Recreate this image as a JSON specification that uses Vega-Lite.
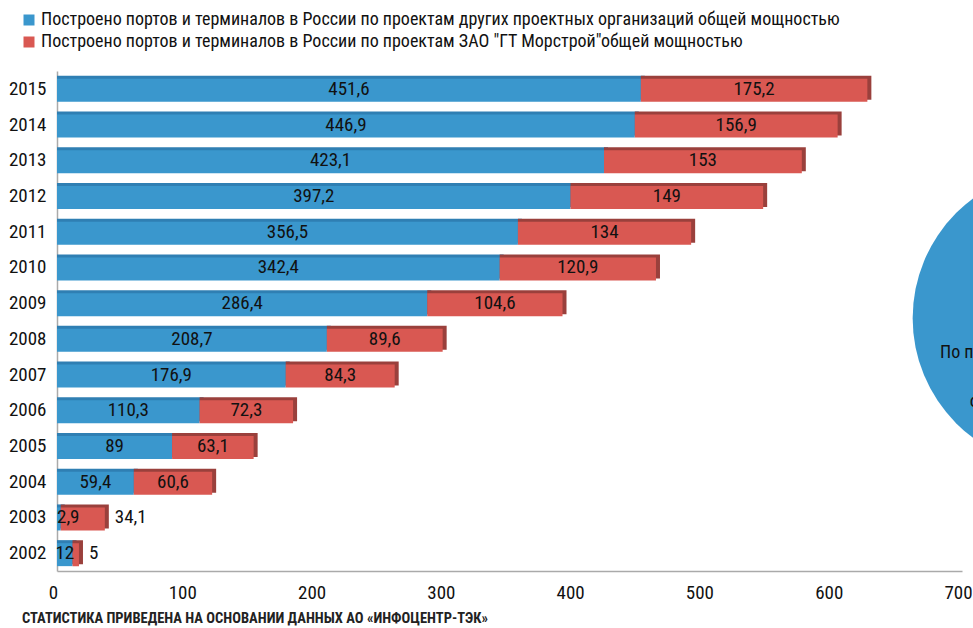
{
  "$schema": "https://vega.github.io/schema/vega-lite/v6.json",
  "width": 905,
  "height": 500,
  "autosize": {"type": "none"},
  "padding": {"left": 57, "top": 71, "right": 11, "bottom": 57},
  "background": "white",
  "config": {
    "view": {"stroke": null},
    "font": "Roboto Condensed, Arial Narrow, Roboto, sans-serif",
    "locale": {"number": {"decimal": ",", "thousands": " ", "grouping": [3], "currency": ["", ""]}}
  },
  "title": {
    "text": "СТАТИСТИКА ПРИВЕДЕНА НА ОСНОВАНИИ ДАННЫХ АО «ИНФОЦЕНТР-ТЭК»",
    "orient": "bottom",
    "anchor": "start",
    "frame": "group",
    "dx": -35,
    "offset": 10,
    "font": "Roboto Condensed, Arial Narrow, Roboto, sans-serif",
    "fontSize": 14.5,
    "fontWeight": "bold",
    "color": "#222222"
  },
  "datasets": {
    "ports": [
      {"year": "2015", "org": "other", "value": 451.6},
      {"year": "2015", "org": "morstroy", "value": 175.2},
      {"year": "2014", "org": "other", "value": 446.9},
      {"year": "2014", "org": "morstroy", "value": 156.9},
      {"year": "2013", "org": "other", "value": 423.1},
      {"year": "2013", "org": "morstroy", "value": 153},
      {"year": "2012", "org": "other", "value": 397.2},
      {"year": "2012", "org": "morstroy", "value": 149},
      {"year": "2011", "org": "other", "value": 356.5},
      {"year": "2011", "org": "morstroy", "value": 134},
      {"year": "2010", "org": "other", "value": 342.4},
      {"year": "2010", "org": "morstroy", "value": 120.9},
      {"year": "2009", "org": "other", "value": 286.4},
      {"year": "2009", "org": "morstroy", "value": 104.6},
      {"year": "2008", "org": "other", "value": 208.7},
      {"year": "2008", "org": "morstroy", "value": 89.6},
      {"year": "2007", "org": "other", "value": 176.9},
      {"year": "2007", "org": "morstroy", "value": 84.3},
      {"year": "2006", "org": "other", "value": 110.3},
      {"year": "2006", "org": "morstroy", "value": 72.3},
      {"year": "2005", "org": "other", "value": 89},
      {"year": "2005", "org": "morstroy", "value": 63.1},
      {"year": "2004", "org": "other", "value": 59.4},
      {"year": "2004", "org": "morstroy", "value": 60.6},
      {"year": "2003", "org": "other", "value": 2.9},
      {"year": "2003", "org": "morstroy", "value": 34.1},
      {"year": "2002", "org": "other", "value": 12},
      {"year": "2002", "org": "morstroy", "value": 5}
    ]
  },
  "layer": [
    {
      "data": {"values": [{"share": "other"}]},
      "mark": {"type": "point", "filled": true, "opacity": 1, "shape": "circle", "size": 88668, "color": "#3a97cd", "clip": false, "yOffset": 15},
      "encoding": {
        "x": {"datum": 777, "type": "quantitative", "scale": {"domain": [0, 700], "nice": false}},
        "y": {"datum": "2009", "type": "ordinal"}
      }
    },
    {
      "data": {"values": [{"t": "По проектам других проектных организаций"}]},
      "mark": {"type": "text", "align": "left", "baseline": "middle", "fontSize": 18, "color": "#111111", "dy": 14},
      "encoding": {
        "x": {"datum": 683, "type": "quantitative"},
        "y": {"datum": "2008", "type": "ordinal"},
        "text": {"field": "t"}
      }
    },
    {
      "data": {"values": [{"t": "общей мощностью"}]},
      "mark": {"type": "text", "align": "left", "baseline": "middle", "fontSize": 18, "color": "#111111", "dy": 27},
      "encoding": {
        "x": {"datum": 706, "type": "quantitative"},
        "y": {"datum": "2007", "type": "ordinal"},
        "text": {"field": "t"}
      }
    },
    {
      "data": {"name": "ports"},
      "transform": [
        {"calculate": "datum.org === 'other' ? 0 : 1", "as": "k"},
        {"stack": "value", "groupby": ["year"], "sort": [{"field": "k", "order": "ascending"}], "as": ["x0", "x1"]}
      ],
      "layer": [
        {
          "mark": {"type": "bar", "height": 24, "yOffset": -1, "x2Offset": 4},
          "encoding": {
            "y": {"field": "year", "type": "ordinal", "sort": "descending",
              "axis": {"title": null, "ticks": false, "labelPadding": 11, "labelFontSize": 19, "labelColor": "#111111", "domainColor": "#aaaaaa", "domainWidth": 1.5}},
            "x": {"field": "x0", "type": "quantitative", "scale": {"domain": [0, 700], "nice": false},
              "axis": {"title": null, "grid": false, "ticks": false, "values": [0, 100, 200, 300, 400, 500, 600, 700], "labelPadding": 12, "labelOffset": -4, "labelFontSize": 19, "labelColor": "#111111", "domainColor": "#aaaaaa", "domainWidth": 1.5, "labelFlush": false}},
            "x2": {"field": "x1"},
            "color": {"condition": {"test": "datum.org === 'other'", "value": "#2f7fb3"}, "value": "#9a403c"}
          }
        },
        {
          "mark": {"type": "bar", "height": 23, "yOffset": 1.5},
          "encoding": {
            "y": {"field": "year", "type": "ordinal", "sort": "descending"},
            "x": {"field": "x0", "type": "quantitative"},
            "x2": {"field": "x1"},
            "color": {"field": "org", "type": "nominal",
              "scale": {"domain": ["other", "morstroy"], "range": ["#3a97cd", "#d95852"]},
              "legend": {
                "title": null, "orient": "none", "legendX": -37, "legendY": -60,
                "symbolType": "square", "symbolSize": 121, "symbolStrokeWidth": 0,
                "labelFontSize": 18, "labelColor": "#111111", "labelLimit": 2000, "rowPadding": 4, "labelOffset": 3,
                "labelExpr": "datum.value === 'other' ? 'Построено портов и терминалов в России по проектам других проектных организаций общей мощностью' : 'Построено портов и терминалов в России по проектам ЗАО \"ГТ Морстрой\"общей мощностью'"
              }
            }
          }
        },
        {
          "transform": [
            {"filter": "!(datum.org === 'morstroy' && datum.value < 40) && !(datum.org === 'other' && datum.value < 5)"},
            {"calculate": "(datum.x0 + datum.x1) / 2", "as": "xm"}
          ],
          "mark": {"type": "text", "align": "center", "baseline": "middle", "fontSize": 19, "color": "#111111", "dy": 0},
          "encoding": {
            "y": {"field": "year", "type": "ordinal", "sort": "descending"},
            "x": {"field": "xm", "type": "quantitative"},
            "text": {"field": "value", "type": "quantitative", "format": "~g"}
          }
        },
        {
          "transform": [
            {"filter": "datum.org === 'morstroy' && datum.value < 40"}
          ],
          "mark": {"type": "text", "align": "left", "baseline": "middle", "fontSize": 19, "color": "#111111", "dx": 10},
          "encoding": {
            "y": {"field": "year", "type": "ordinal", "sort": "descending"},
            "x": {"field": "x1", "type": "quantitative"},
            "text": {"field": "value", "type": "quantitative", "format": "~g"}
          }
        },
        {
          "transform": [
            {"filter": "datum.org === 'other' && datum.value < 5"}
          ],
          "mark": {"type": "text", "align": "left", "baseline": "middle", "fontSize": 19, "color": "#111111", "dx": 0},
          "encoding": {
            "y": {"field": "year", "type": "ordinal", "sort": "descending"},
            "x": {"field": "x0", "type": "quantitative"},
            "text": {"field": "value", "type": "quantitative", "format": "~g"}
          }
        }
      ]
    }
  ]
}
